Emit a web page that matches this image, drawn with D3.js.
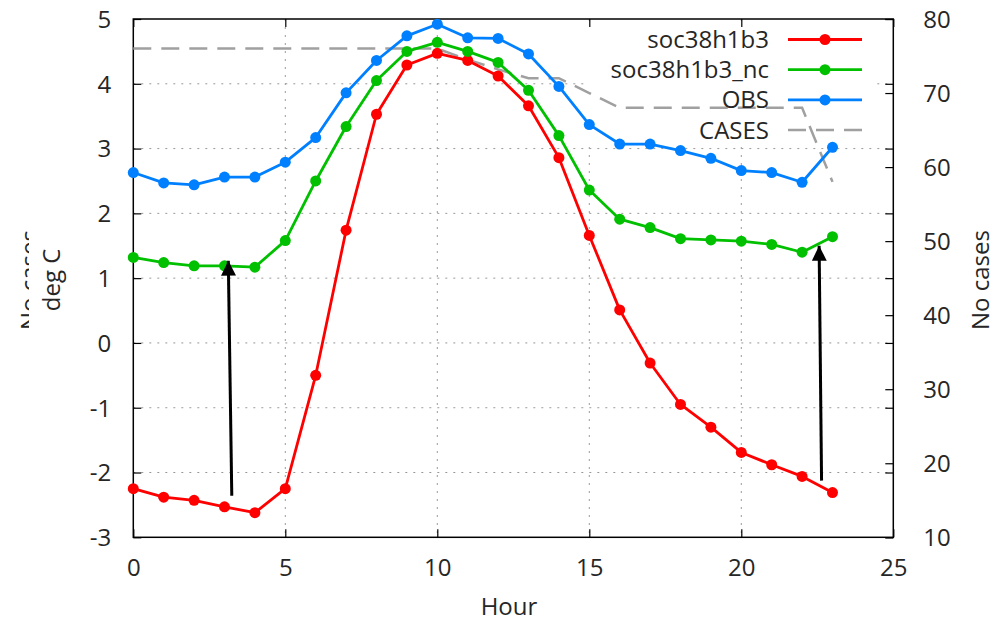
<!DOCTYPE html>
<html>
<head>
<meta charset="utf-8">
<script src="https://cdn.jsdelivr.net/npm/d3@7"></script>
<style>
  body { margin: 0; background: #fff; }
  svg { display: block; }
  text { font-family: "Open Sans", "DejaVu Sans", sans-serif; font-size: 24px; fill: #262626; }
</style>
</head>
<body>
<svg id="chart" width="996" height="623"></svg>
<script>
// hourly values
const hours = [0, 1, 2, 3, 4, 5, 6, 7, 8, 9, 10, 11, 12, 13, 14, 15, 16, 17, 18, 19, 20, 21, 22, 23];
const soc38h1b3 = [-2.25, -2.38, -2.43, -2.53, -2.62, -2.25, -0.50, 1.74, 3.53, 4.29, 4.47, 4.36,
                   4.12, 3.66, 2.86, 1.66, 0.51, -0.31, -0.95, -1.30, -1.69, -1.88, -2.06, -2.31];
const soc38h1b3Nc = [1.32, 1.24, 1.19, 1.19, 1.17, 1.58, 2.50, 3.34, 4.05, 4.50, 4.64, 4.50,
                     4.33, 3.90, 3.20, 2.36, 1.91, 1.78, 1.61, 1.59, 1.57, 1.52, 1.40, 1.64];
const obs = [2.63, 2.47, 2.44, 2.56, 2.56, 2.79, 3.17, 3.86, 4.36, 4.74, 4.92, 4.71,
             4.70, 4.46, 3.96, 3.37, 3.07, 3.07, 2.97, 2.85, 2.66, 2.63, 2.48, 3.02];
// case counts on the right axis
const cases = [76, 76, 76, 76, 76, 76, 76, 76, 76, 76, 76, 74.5,
               73.2, 72, 72, 70, 68, 68, 68, 68, 68, 68, 68, 58];

const xTicks = [0, 5, 10, 15, 20, 25];
const yTicks = [-3, -2, -1, 0, 1, 2, 3, 4, 5];
const y2Ticks = [10, 20, 30, 40, 50, 60, 70, 80];

// arrows in data coords: from (x1,y1) to (x2,y2)
const arrows = [
    { x1: 3.24, y1: -2.36, x2: 3.125, y2: 1.27 },
    { x1: 22.64, y1: -2.125, x2: 22.56, y2: 1.50 }
];

const svg = d3.select('#chart');
const plotL = 133.3, plotR = 893.3, plotT = 19, plotB = 537.3;

const x = d3.scaleLinear().domain([0, 25]).range([plotL, plotR]);
const y = d3.scaleLinear().domain([-3, 5]).range([plotB, plotT]);
const y2 = d3.scaleLinear().domain([10, 80]).range([plotB, plotT]);

const gridColor = '#9a9a9a';
const plain = d => String(d); // keep ASCII hyphen for negatives

// Grid
const grid = svg.append('g');
xTicks.filter(t => t > 0 && t < 25).forEach(t => {
    grid.append('line')
        .attr('x1', x(t)).attr('x2', x(t)).attr('y1', plotT).attr('y2', plotB)
        .attr('stroke', gridColor).attr('stroke-width', 1).attr('stroke-dasharray', '2,6');
});
yTicks.filter(t => t > -3 && t < 5).forEach(t => {
    grid.append('line')
        .attr('x1', plotL).attr('x2', plotR).attr('y1', y(t)).attr('y2', y(t))
        .attr('stroke', gridColor).attr('stroke-width', 1).attr('stroke-dasharray', '2,6');
});

// Key background (opaque, drawn under the curves)
svg.append('rect')
    .attr('x', 585).attr('y', 21).attr('width', 292).attr('height', 125)
    .attr('fill', '#fff');

// Axes
const axisLeft = svg.append('g').attr('transform', `translate(${plotL},0)`)
    .call(d3.axisLeft(y).tickValues(yTicks).tickFormat(plain).tickSize(-8).tickPadding(22));
const axisRight = svg.append('g').attr('transform', `translate(${plotR},0)`)
    .call(d3.axisRight(y2).tickValues(y2Ticks).tickFormat(plain).tickSize(-8).tickPadding(30));
const axisBottom = svg.append('g').attr('transform', `translate(0,${plotB})`)
    .call(d3.axisBottom(x).tickValues(xTicks).tickFormat(plain).tickSize(-8).tickPadding(22));
// mirrored ticks
svg.append('g').attr('transform', `translate(0,${plotT})`)
    .call(d3.axisTop(x).tickValues(xTicks).tickSize(-8).tickFormat(''));
svg.append('g').attr('transform', `translate(${plotR},0)`)
    .call(d3.axisRight(y).tickValues(yTicks).tickSize(-8).tickFormat(''));

svg.selectAll('.domain').remove();
svg.selectAll('.tick line').attr('stroke', '#000').attr('stroke-width', 1.2);
svg.selectAll('.tick text').style('font-size', '24px').attr('fill', '#262626')
    .style('font-family', '"Open Sans", "DejaVu Sans", sans-serif');
axisLeft.selectAll('.tick text').attr('dy', '0.35em');
axisRight.selectAll('.tick text').attr('dy', '0.35em');

// Frame
svg.append('rect')
    .attr('x', plotL).attr('y', plotT).attr('width', plotR - plotL).attr('height', plotB - plotT)
    .attr('fill', 'none').attr('stroke', '#000').attr('stroke-width', 1.5);

// Axis labels
svg.append('text').attr('x', 509).attr('y', 615).attr('text-anchor', 'middle').text('Hour');
svg.append('text')
    .attr('transform', 'translate(989,280) rotate(-90)')
    .attr('text-anchor', 'middle').text('No cases');

// the second label on the left, half hidden
svg.append('clipPath').attr('id', 'leftClip')
    .append('rect').attr('x', 14).attr('y', 215).attr('width', 15).attr('height', 130);
svg.append('g')
    .attr('clip-path', 'url(#leftClip)')
    .append('text')
    .attr('transform', 'translate(38,280) rotate(-90)')
    .attr('text-anchor', 'middle').text('No cases');
svg.append('text')
    .attr('transform', 'translate(60,280) rotate(-90)')
    .attr('text-anchor', 'middle').text('deg C');

// Series
const series = [
    { name: 'soc38h1b3', values: soc38h1b3, color: '#ff0000' },
    { name: 'soc38h1b3_nc', values: soc38h1b3Nc, color: '#00c000' },
    { name: 'OBS', values: obs, color: '#0080ff' }
];

const line = d3.line().x(d => x(d[0])).y(d => y(d[1]));
const line2 = d3.line().x(d => x(d[0])).y(d => y2(d[1]));

// CASES dashed line on the right axis
svg.append('path')
    .datum(hours.map((h, i) => [h, cases[i]]))
    .attr('d', line2)
    .attr('fill', 'none').attr('stroke', '#a0a0a0').attr('stroke-width', 2.5)
    .attr('stroke-dasharray', '18,10');

series.forEach(s => {
    const pts = hours.map((h, i) => [h, s.values[i]]);
    svg.append('path')
        .datum(pts)
        .attr('d', line)
        .attr('fill', 'none').attr('stroke', s.color).attr('stroke-width', 2.8)
        .attr('stroke-linejoin', 'round');
    svg.append('g').selectAll('circle')
        .data(pts)
        .join('circle')
        .attr('cx', d => x(d[0])).attr('cy', d => y(d[1])).attr('r', 5.5)
        .attr('fill', s.color);
});

// Key
const keyItems = series.concat([{ name: 'CASES', color: '#a0a0a0', dashed: true }]);
keyItems.forEach((k, i) => {
    const cy = 39.5 + i * 30.2;
    svg.append('text')
        .attr('x', 769).attr('y', cy).attr('dy', '0.35em')
        .attr('text-anchor', 'end').text(k.name);
    svg.append('line')
        .attr('x1', 788).attr('x2', 862).attr('y1', cy).attr('y2', cy)
        .attr('stroke', k.color).attr('stroke-width', k.dashed ? 2.5 : 2.8)
        .attr('stroke-dasharray', k.dashed ? '18,10' : null);
    if (!k.dashed) {
        svg.append('circle').attr('cx', 825).attr('cy', cy).attr('r', 5.5).attr('fill', k.color);
    }
});

// Arrows
svg.append('defs').append('marker')
    .attr('id', 'head')
    .attr('viewBox', '0 0 10 10')
    .attr('refX', 10).attr('refY', 5)
    .attr('markerWidth', 5).attr('markerHeight', 5)
    .attr('markerUnits', 'strokeWidth')
    .attr('orient', 'auto')
    .append('path').attr('d', 'M0,0 L10,5 L0,10 Z').attr('fill', '#000');

arrows.forEach(a => {
    svg.append('line')
        .attr('x1', x(a.x1)).attr('y1', y(a.y1))
        .attr('x2', x(a.x2)).attr('y2', y(a.y2))
        .attr('stroke', '#000').attr('stroke-width', 3)
        .attr('marker-end', 'url(#head)');
});
</script>
</body>
</html>
